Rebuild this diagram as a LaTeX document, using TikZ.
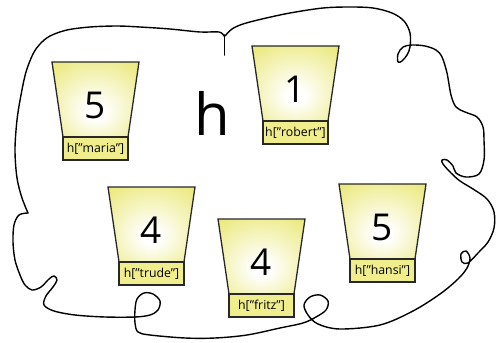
\documentclass[tikz,border=0pt]{standalone}
\usepackage{fontspec}
\setmainfont{Open Sans}
\definecolor{bucketY}{RGB}{234,232,118}
\definecolor{labelY}{RGB}{240,238,140}
\definecolor{lineC}{RGB}{40,40,40}
\pgfdeclareradialshading{bucketglow}{\pgfpoint{0bp}{-9bp}}{color(0bp)=(white); color(5bp)=(white); color(38bp)=(bucketY); color(60bp)=(bucketY)}
\tikzset{
  bucketshape/.style={shading=bucketglow, draw=lineC, line width=1.3pt, line join=miter},
  numtxt/.style={font=\fontsize{37}{37}\selectfont, inner sep=0pt},
  labelbox/.style={draw=lineC, line width=1.3pt, fill=labelY, minimum width=65pt, minimum height=23pt, inner sep=0pt, font=\fontsize{12.3}{13}\selectfont},
  curve/.style={line width=1.4pt, black, line cap=round, line join=round},
}
\newcommand{\bucketdraw}[4]{%
  \begin{scope}[shift={(#2,#3)}]
    \shadedraw[bucketshape] (0,0) -- (87,0) -- (76,75) -- (11,75) -- cycle;
    \node[numtxt] (n-#1) at (43.5,43) {#4};
    \node[labelbox] (l-#1) at (43.5,86.5) {h["#1"]};
  \end{scope}}
\begin{document}
\begin{tikzpicture}[x=1pt,y=-1pt]
\useasboundingbox (0,0) rectangle (496,343);
% enclosing curve
\draw[curve] plot[smooth, tension=0.55] coordinates {(224,36) (219,32) (200,32) (170,29) (140,27) (117,26) (90,27) (67,30) (50,36) (40,44) (33,54) (26,72) (21,95) (17,120) (15,150) (17,178) (22,198) (28,213)};
\draw[curve] plot[smooth, tension=0.55] coordinates {(28,213) (19,215) (14,225) (13,242) (15,260) (20,275) (25,285) (32,290) (41,287) (49,279) (54,276) (57,280) (53,287) (46,296) (44,305) (54,311) (75,315) (105,317) (135,317) (150,315) (158,310) (160,301) (153,294) (144,293) (137,299) (135,310) (135,323) (138,332) (150,335) (185,338) (215,338) (247,335) (280,328) (303,323) (316,317) (326,310) (328,301) (320,295) (310,297) (304,305) (308,315) (318,324) (340,329) (380,325) (413,311) (440,294) (458,279) (467,268) (470,258) (466,251) (461,254) (462,262) (468,263) (478,253) (488,242) (494,228) (494,212) (487,199) (473,189) (460,181) (451,173) (443,164) (442,160) (447,160) (453,166) (456,173) (466,177) (479,174) (484,160) (484,140) (483,127) (477,117) (465,112) (456,107) (451,95) (447,73) (442,57) (436,50) (425,46) (412,45) (403,47) (398,54) (398,62) (402,61) (407,55) (410,47) (410,33) (404,21) (392,13) (373,8) (350,7) (323,8) (290,13) (262,19) (243,24) (232,29) (225,36)};
\coordinate (spiketop) at (224.5,35);
\coordinate (spikebot) at (224.5,55);
\draw[curve, line width=1.8pt] (spiketop) -- (spikebot);
% buckets
\bucketdraw{maria}{52}{62}{5}
\bucketdraw{robert}{252}{46}{1}
\bucketdraw{trude}{108}{187}{4}
\bucketdraw{fritz}{218}{219}{4}
\bucketdraw{hansi}{339}{184}{5}
% big h
\node[font=\fontsize{58}{58}\selectfont, inner sep=0pt, anchor=base] (hname) at (212,135) {h};
\end{tikzpicture}
\end{document}
